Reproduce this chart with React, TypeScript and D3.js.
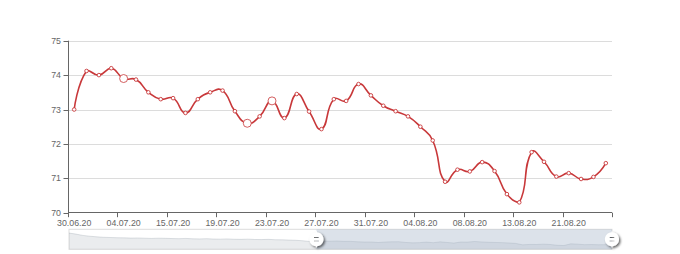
import React from 'react';
import * as d3 from 'd3';

// ---------- data ----------
const categories = [
  '30.06.20', '01.07.20', '02.07.20', '03.07.20',
  '04.07.20', '07.07.20', '10.07.20', '13.07.20',
  '15.07.20', '16.07.20', '17.07.20', '18.07.20',
  '19.07.20', '20.07.20', '21.07.20', '22.07.20',
  '23.07.20', '24.07.20', '25.07.20', '26.07.20',
  '27.07.20', '28.07.20', '29.07.20', '30.07.20',
  '31.07.20', '01.08.20', '02.08.20', '03.08.20',
  '04.08.20', '05.08.20', '06.08.20', '07.08.20',
  '08.08.20', '09.08.20', '10.08.20', '12.08.20',
  '13.08.20', '15.08.20', '17.08.20', '19.08.20',
  '21.08.20', '22.08.20', '23.08.20', '24.08.20',
];

const values = [
  73.0, 74.12, 74.0, 74.2, 73.9, 73.87, 73.5, 73.3,
  73.33, 72.9, 73.3, 73.5, 73.55, 72.95, 72.6, 72.8,
  73.25, 72.75, 73.45, 72.94, 72.43, 73.3, 73.25, 73.74,
  73.41, 73.11, 72.95, 72.8, 72.5, 72.1, 70.9, 71.25,
  71.2, 71.47, 71.21, 70.54, 70.3, 71.76, 71.48, 71.05,
  71.15, 70.98, 71.04, 71.44,
];

// earlier values, only visible in the zoom slider's data shadow
const historyValues = [
  81.0, 80.1, 79.0, 78.3, 77.8, 77.4, 77.2, 77.0, 76.9, 76.7,
  76.8, 76.6, 76.4, 76.6, 76.5, 76.3, 76.2, 76.4, 76.1, 76.0,
  76.2, 75.9, 75.8, 76.0, 75.7, 75.6, 75.8, 75.5, 75.4, 75.6,
  75.3, 75.2, 75.0, 74.8, 74.4, 73.8,
];

const bigMarkers = [4, 14, 16];
const yTicks = [70, 71, 72, 73, 74, 75];
const labelEvery = 4;

// ---------- layout ----------
const W = 680;
const H = 254;
const grid = { left: 68, right: 612, top: 40.7, bottom: 212.7 };
const slider = { left: 69, right: 612, top: 229.3, bottom: 249.3 };
const RED = '#c8383a';
const AXIS = '#666';
const FONT = '"Liberation Sans", Arial, sans-serif';

function echartsSmooth(pts: [number, number][], smooth = 0.5) {
  const p = d3.path();
  const minX = d3.min(pts, d => d[0])!, maxX = d3.max(pts, d => d[0])!;
  const minY = d3.min(pts, d => d[1])!, maxY = d3.max(pts, d => d[1])!;
  const clamp = (c: number[]) => [
    Math.max(minX, Math.min(maxX, c[0])),
    Math.max(minY, Math.min(maxY, c[1])),
  ];
  let cp0 = [pts[0][0], pts[0][1]];
  p.moveTo(pts[0][0], pts[0][1]);
  for (let i = 1; i < pts.length; i++) {
    const cur = pts[i], prev = pts[i - 1], next = pts[i + 1];
    let cp1: number[];
    let ratio = 0.5;
    let v = [0, 0];
    if (!next) {
      cp1 = [cur[0], cur[1]];
    } else {
      v = [next[0] - prev[0], next[1] - prev[1]];
      const lp = Math.hypot(cur[0] - prev[0], cur[1] - prev[1]);
      const ln = Math.hypot(next[0] - cur[0], next[1] - cur[1]);
      ratio = ln / (ln + lp);
      cp1 = [cur[0] - v[0] * smooth * (1 - ratio), cur[1] - v[1] * smooth * (1 - ratio)];
    }
    const a = clamp(cp0), b = clamp(cp1);
    p.bezierCurveTo(a[0], a[1], b[0], b[1], cur[0], cur[1]);
    cp0 = [cur[0] + v[0] * smooth * ratio, cur[1] + v[1] * smooth * ratio];
  }
  return p.toString();
}

const HANDLE_ICON =
  'M10.7,11.9v-1.3H9.3v1.3c-4.9,0.3-8.8,4.4-8.8,9.4c0,5,3.9,9.1,8.8,9.4v1.3h1.3v-1.3c4.9-0.3,8.8-4.4,8.8-9.4C19.5,16.3,15.6,12.2,10.7,11.9z M13.3,24.4H6.7V23h6.6V24.4z M13.3,19.6H6.7v-1.4h6.6V19.6z';

export default function App() {
  const x = d3.scaleBand<string>().domain(categories).range([grid.left, grid.right]).padding(0);
  const bw = x.bandwidth();
  const cx = (c: string) => (x(c) as number) + bw / 2;
  const y = d3.scaleLinear().domain([70, 75]).range([grid.bottom, grid.top]);

  const pts: [number, number][] = values.map((v, i) => [cx(categories[i]), y(v)]);
  const linePath = echartsSmooth(pts);

  // slider data shadow
  const all = historyValues.concat(values);
  const ext = d3.extent(all) as [number, number];
  const off = (ext[1] - ext[0]) * 0.3;
  const sx = d3.scaleLinear().domain([0, all.length - 1]).range([slider.left, slider.right]);
  const sy = d3.scaleLinear().domain([ext[0] - off, ext[1] + off]).range([slider.bottom, slider.top]);
  const shadowArea = d3.area<number>().x((_, i) => sx(i)).y0(slider.bottom).y1(d => sy(d))(all)!;
  const shadowLine = d3.line<number>().x((_, i) => sx(i)).y(d => sy(d))(all)!;
  const startX = sx(historyValues.length);
  const endX = sx(all.length - 1);
  const hcy = (slider.top + slider.bottom) / 2;
  const hScale = 16 / 21.4;

  const tickIdx = categories.map((_, i) => i).filter(i => i % labelEvery === 0);

  return (
    <svg width={W} height={H} style={{ position: 'absolute', left: 0, top: 0 }}>
      <defs>
        <filter id="hs" x="-50%" y="-50%" width="200%" height="200%">
          <feDropShadow dx="2" dy="2" stdDeviation="1.5" floodColor="#000" floodOpacity="0.6" />
        </filter>
      </defs>
      {/* grid lines */}
      {yTicks.slice(1).map(t => (
        <line key={t} x1={grid.left} x2={grid.right} y1={Math.round(y(t)) + 0.5} y2={Math.round(y(t)) + 0.5}
          stroke="#dcdcdc" strokeWidth={1} />
      ))}
      {/* y axis */}
      <line x1={grid.left + 0.5} x2={grid.left + 0.5} y1={grid.top} y2={grid.bottom} stroke={AXIS} />
      {yTicks.map(t => (
        <g key={t}>
          <line x1={grid.left - 4.5} x2={grid.left + 0.5} y1={Math.round(y(t)) + 0.5} y2={Math.round(y(t)) + 0.5} stroke={AXIS} />
          <text x={grid.left - 7} y={y(t) + 3.1} textAnchor="end" fontSize={8.8} fontFamily={FONT} fill={AXIS}>{t}</text>
        </g>
      ))}
      {/* x axis */}
      <line x1={grid.left} x2={grid.right} y1={Math.round(grid.bottom) - 0.5} y2={Math.round(grid.bottom) - 0.5} stroke={AXIS} />
      {tickIdx.concat([categories.length]).map(i => {
        const tx = i < categories.length ? (x(categories[i]) as number) : grid.right;
        return <line key={'t' + i} x1={Math.round(tx) + 0.5} x2={Math.round(tx) + 0.5} y1={grid.bottom} y2={grid.bottom + 4.5} stroke={AXIS} />;
      })}
      {tickIdx.map(i => (
        <text key={'l' + i} x={cx(categories[i])} y={grid.bottom + 12.8} textAnchor="middle" fontSize={8.8} fontFamily={FONT} fill={AXIS}>
          {categories[i]}
        </text>
      ))}
      {/* series */}
      <path d={linePath} fill="none" stroke={RED} strokeWidth={1.6} />
      {pts.map((p, i) => (
        <circle key={i} cx={p[0]} cy={p[1]} r={bigMarkers.includes(i) ? 4 : 1.8} fill="#fff" stroke={RED}
          strokeWidth={bigMarkers.includes(i) ? 0.8 : 0.9} />
      ))}
      {/* slider */}
      <rect x={slider.left} y={slider.top} width={slider.right - slider.left} height={slider.bottom - slider.top}
        fill="none" stroke="#ddd" />
      <path d={shadowArea} fill="rgba(47,69,84,0.1)" />
      <path d={shadowLine} fill="none" stroke="rgba(47,69,84,0.3)" strokeWidth={0.5} />
      <rect x={startX} y={slider.top} width={endX - startX} height={slider.bottom - slider.top} fill="rgba(167,183,203,0.4)" />
      {[startX, endX].map((hx, i) => (
        <path key={i} d={HANDLE_ICON} fillRule="evenodd" fill="#fff" filter="url(#hs)"
          transform={`translate(${hx},${hcy}) scale(${hScale}) translate(-10,-21.3)`} />
      ))}
    </svg>
  );
}
